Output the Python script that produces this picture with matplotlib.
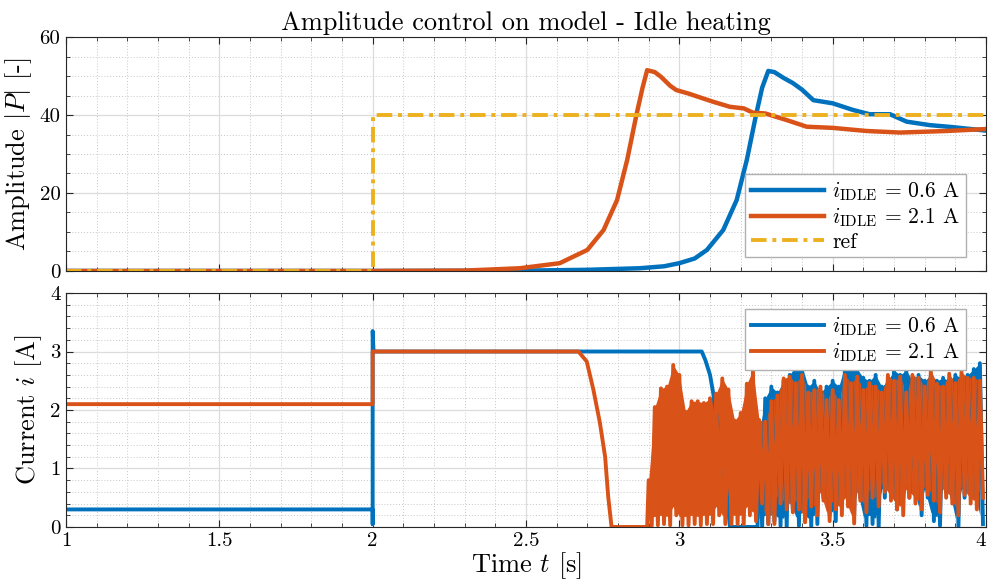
import numpy as np
import matplotlib
matplotlib.use("Agg")
import matplotlib.pyplot as plt
from matplotlib.ticker import MultipleLocator, FormatStrFormatter

plt.rcParams["font.family"] = "cmr10"
plt.rcParams["mathtext.fontset"] = "cm"
plt.rcParams["axes.formatter.use_mathtext"] = True
plt.rcParams["path.simplify"] = False

c_blue = "#0072BD"
c_orange = "#D95319"
c_yellow = "#EDB120"

# ---- amplitude |P| (top) ----
t_amp_06 = [1.0, 2.0, 2.5, 2.7, 2.87, 2.95, 3.0, 3.05, 3.09, 3.143, 3.187, 3.22, 3.25, 3.27,
            3.29, 3.31, 3.34, 3.37, 3.40, 3.437, 3.5, 3.566, 3.62, 3.687, 3.741, 3.817, 3.89, 4.0]
amp_06 = [0.0, 0.0, 0.1, 0.3, 0.7, 1.2, 2.0, 3.2, 5.4, 10.5, 18.2, 28.5, 40.0, 47.0,
          51.3, 51.0, 49.5, 48.2, 46.5, 43.8, 43.0, 41.3, 40.2, 40.2, 38.3, 37.4, 36.9, 36.0]

t_amp_21 = [1.0, 2.0, 2.3, 2.48, 2.61, 2.70, 2.753, 2.797, 2.83, 2.86, 2.88, 2.895, 2.92, 2.94,
            2.97, 2.99, 3.03, 3.06, 3.11, 3.165, 3.21, 3.24, 3.28, 3.35, 3.415, 3.5, 3.61, 3.72, 3.87, 4.0]
amp_21 = [0.0, 0.0, 0.1, 0.7, 2.0, 5.4, 10.5, 18.2, 28.5, 40.0, 47.0, 51.5, 51.0, 49.8,
          47.5, 46.4, 45.5, 44.7, 43.4, 42.1, 41.7, 40.6, 40.4, 38.7, 37.0, 36.7, 35.9, 35.5, 35.9, 36.4]

t_ref = [1.0, 2.0, 2.0, 4.0]
amp_ref = [0.0, 0.0, 40.0, 40.0]

# ---- current i (bottom) ----
t_cur_06 = [1.0, 2.0, 2.0, 2.0, 2.003, 3.073, 3.085, 3.10, 3.11, 3.13, 3.15, 3.165, 3.255]
cur_06 = [0.3, 0.3, 0.05, 3.35, 3.0, 3.0, 2.85, 2.6, 2.3, 1.6, 0.8, 0.0, 0.0]

t_cur_21 = [1.0, 2.0, 2.0, 2.671, 2.698, 2.72, 2.741, 2.758, 2.768, 2.779, 2.895]
cur_21 = [2.1, 2.1, 3.0, 3.0, 2.83, 2.34, 1.78, 1.2, 0.52, 0.0, 0.0]

# oscillating part: peaks (hi) every 0.02 s, troughs (lo) half a step later
osc_start_21 = 2.90
hi_21 = [0.8, 2.05, 2.37, 2.4, 2.77, 2.6, 1.97, 2.15, 2.15, 2.12, 2.2, 2.28, 2.54, 2.35,
         1.82, 1.95, 2.45, 2.68, 1.83, 1.8, 2.15, 2.25, 2.54, 2.57, 2.46, 2.6, 2.3, 2.34,
         2.4, 2.17, 2.34, 2.17, 2.6, 2.46, 2.57, 2.34, 2.46, 2.4, 2.3, 2.6, 2.5, 2.57,
         2.3, 2.6, 2.55, 2.4, 2.68, 2.45, 2.4, 2.62, 2.46, 2.65, 2.55, 2.55, 2.5]
lo_21 = [0.02, 0.03, 0.05, 0.03, 0.2, 0.03, 0.03, 0.05, 0.03, 0.05, 0.05, 0.2, 0.05, 0.05,
         0.05, 0.05, 0.2, 0.1, 0.4, 0.05, 0.05, 0.4, 0.3, 0.25, 0.3, 0.08, 0.35, 0.2,
         0.45, 0.1, 0.3, 0.2, 0.35, 0.06, 0.45, 0.25, 0.5, 0.35, 0.6, 0.45, 0.3, 0.2,
         0.5, 0.4, 0.3, 0.55, 0.45, 0.25, 0.5, 0.4, 0.2, 0.55, 0.4, 0.3, 0.5]

osc_start_06 = 3.26
hi_06 = [1.6, 2.2, 2.4, 2.3, 2.5, 2.6, 2.77, 2.75, 2.4, 2.5, 2.3, 2.4, 2.5, 2.4, 2.77,
         2.7, 2.7, 2.55, 2.5, 2.6, 2.4, 2.5, 2.68, 2.6, 2.68, 2.5, 2.6, 2.5, 2.6, 2.5,
         2.55, 2.5, 2.6, 2.55, 2.6, 2.7, 2.8]
lo_06 = [0.0, 0.05, 0.1, 0.02, 0.0, 0.3, 0.02, 0.1, 0.0, 0.05, 0.5, 0.2, 0.1, 0.5,
         0.4, 0.2, 0.5, 0.02, 0.05, 0.0, 0.5, 0.6, 0.3, 0.5, 0.5, 0.6, 0.2, 0.5, 0.1,
         0.02, 0.6, 0.5, 0.0, 0.5, 0.6, 0.5, 0.05]


def zigzag(t0, hi, lo, step=0.02):
    t = []
    v = []
    for k in range(len(hi)):
        t += [t0 + k * step, t0 + k * step + step / 2]
        v += [hi[k], lo[k]]
    return np.array(t), np.array(v)


tz06, vz06 = zigzag(osc_start_06, hi_06, lo_06)
tz21, vz21 = zigzag(osc_start_21, hi_21, lo_21)
t_i06 = np.concatenate([t_cur_06, tz06])
i06 = np.concatenate([cur_06, vz06])
t_i21 = np.concatenate([t_cur_21, tz21])
i21 = np.concatenate([cur_21, vz21])

lab06 = r"$i_{\mathrm{IDLE}} \,=\, 0.6$ A"
lab21 = r"$i_{\mathrm{IDLE}} \,=\, 2.1$ A"

fig = plt.figure(figsize=(9.89, 5.83), dpi=100)
ax1 = fig.add_axes([0.0667, 0.5352, 0.9303, 0.4013])
ax2 = fig.add_axes([0.0667, 0.0961, 0.9303, 0.4013])

lw = 2.8
ax1.plot(t_amp_06, amp_06, color=c_blue, lw=3.2, label=lab06)
ax1.plot(t_amp_21, amp_21, color=c_orange, lw=3.2, label=lab21)
ax1.plot(t_ref, amp_ref, color=c_yellow, lw=lw, ls=(0, (4, 1.5, 1, 1.5)), label="ref")

ax2.plot(t_i06, i06, color=c_blue, lw=lw, label=lab06)
# fill the dense oscillation band so it reads solid like the original
ax2.fill_between(tz06[0::2], np.array(lo_06) + 0.15, hi_06, color=c_blue, lw=0)
ax2.plot(t_i21, i21, color=c_orange, lw=lw, label=lab21)
ax2.fill_between(tz21[0::2], np.array(lo_21) + 0.15, hi_21, color=c_orange, lw=0)

ax1.set_ylim(0, 60)
ax1.yaxis.set_major_locator(MultipleLocator(20))
ax1.yaxis.set_minor_locator(MultipleLocator(5))
ax2.set_ylim(0, 4)
ax2.yaxis.set_major_locator(MultipleLocator(1))
ax2.yaxis.set_minor_locator(MultipleLocator(0.2))

for ax in (ax1, ax2):
    ax.set_xlim(1, 4)
    ax.xaxis.set_major_locator(MultipleLocator(0.5))
    ax.xaxis.set_minor_locator(MultipleLocator(0.1))
    ax.xaxis.set_major_formatter(FormatStrFormatter("%g"))
    ax.yaxis.set_major_formatter(FormatStrFormatter("%g"))
    ax.grid(True, which="major", color="#dcdcdc", lw=0.9)
    ax.grid(True, which="minor", color="#c8c8c8", lw=0.7, ls=(0, (1, 2)))
    ax.set_axisbelow(True)
    ax.tick_params(which="both", direction="in", top=True, right=True, color="#262626",
                   labelsize=15, pad=4)
    ax.tick_params(which="major", length=5)
    ax.tick_params(which="minor", length=3)
    for s in ax.spines.values():
        s.set_color("#262626")
        s.set_linewidth(0.8)

ax1.tick_params(labelbottom=False)
ax1.set_title("Amplitude control on model - Idle heating", fontsize=19, pad=5)
ax1.set_ylabel(r"Amplitude $|P|$ [-]", fontsize=19, labelpad=4)
ax2.set_ylabel(r"Current $i$ [A]", fontsize=19, labelpad=4)
ax2.set_xlabel(r"Time $t$ [s]", fontsize=19, labelpad=0)

leg_kw = dict(fontsize=15.5, handlelength=3.4, fancybox=False, framealpha=1,
              edgecolor="#b0b0b0", borderpad=0.25, labelspacing=0.12, handletextpad=0.4,
              borderaxespad=0)
ax1.legend(loc="lower right", bbox_to_anchor=(0.978, 0.06), **leg_kw)
ax2.legend(loc="upper right", bbox_to_anchor=(0.978, 0.932), **leg_kw)

# keep the "4" tick label inside the figure
fig.canvas.draw()
for tick in ax2.xaxis.get_major_ticks():
    if abs(tick.get_loc() - 4.0) < 1e-9:
        tick.label1.set_horizontalalignment("right")

fig.savefig("out.png", dpi=100)
